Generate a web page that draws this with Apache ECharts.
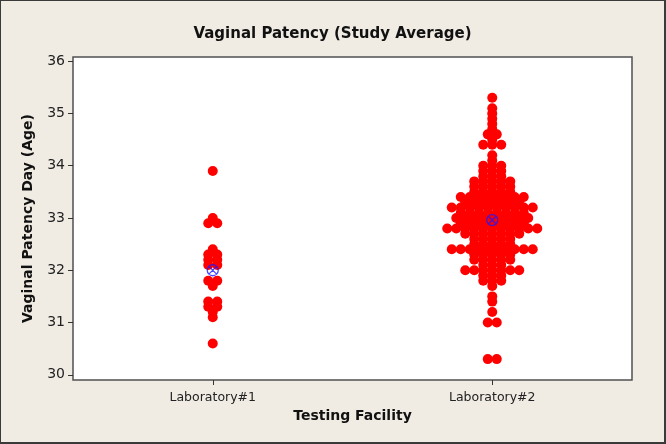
<!DOCTYPE html>
<html>
<head>
<meta charset="utf-8">
<script src="https://cdn.jsdelivr.net/npm/echarts@6/dist/echarts.min.js"></script>
<style>
html,body{margin:0;padding:0;background:#f0ece4;}
#c{width:666px;height:444px;box-sizing:border-box;border:2px solid #3a3a3a;border-top-width:1px;border-left-width:1px;}
</style>
</head>
<body>
<div id="c"></div>
<script>
const categories = ['Laboratory#1', 'Laboratory#2'];
const yTicks = [30, 31, 32, 33, 34, 35, 36];

// Laboratory#1: distinct values and how many studies share each value
const lab1Levels = [33.9, 33.0, 32.9, 32.4, 32.3, 32.2, 32.1, 31.8, 31.7, 31.4, 31.3, 31.2, 31.1, 30.6];
const lab1Counts = [1,    1,    2,    1,    2,    2,    2,    2,    1,    2,    2,    1,    1,    1];

// Laboratory#2
const lab2Levels = [35.3, 35.1, 35.0, 34.9, 34.8, 34.7, 34.6, 34.5, 34.4, 34.2, 34.1, 34.0, 33.9, 33.8, 33.7, 33.6, 33.5, 33.4, 33.3, 33.2, 33.1, 33.0, 32.9, 32.8, 32.7, 32.6, 32.5, 32.4, 32.3, 32.2, 32.1, 32.0, 31.9, 31.8, 31.7, 31.5, 31.4, 31.2, 31.0, 30.3];
const lab2Counts = [1,    1,    1,    1,    1,    1,    2,    1,    3,    1,    1,    3,    3,    3,    5,    5,    5,    8,    7,    10,   8,    9,    8,    11,   7,    5,    5,    10,   5,    5,    3,    7,    3,    3,    1,    1,    1,    1,    2,    2];

const groupMeans = [32.0, 32.96];

const STEP = 9; // horizontal spacing (px) of symbols sharing a value
function expand(catIdx, levels, counts) {
  const out = [];
  levels.forEach((v, i) => {
    const n = counts[i];
    for (let k = 0; k < n; k++) {
      out.push({ value: [catIdx, v], symbolOffset: [(k - (n - 1) / 2) * STEP, 0] });
    }
  });
  return out;
}
const dots = expand(0, lab1Levels, lab1Counts).concat(expand(1, lab2Levels, lab2Counts));
const means = groupMeans.map((m, i) => [i, m]);

const font = 'DejaVu Sans';
const chart = echarts.init(document.getElementById('c'));
chart.setOption({
  backgroundColor: 'transparent',
  animation: false,
  title: {
    text: 'Vaginal Patency (Study Average)',
    left: 'center', top: 21,
    textStyle: { fontFamily: font, fontSize: 15, fontWeight: 'bold', color: '#111' }
  },
  grid: {
    left: 72, right: 32, top: 56, bottom: 62,
    show: true, backgroundColor: '#ffffff', borderColor: '#505050', borderWidth: 1.5
  },
  xAxis: {
    type: 'category',
    data: categories,
    name: 'Testing Facility',
    nameLocation: 'middle', nameGap: 28,
    nameTextStyle: { fontFamily: font, fontSize: 14, fontWeight: 'bold', color: '#111' },
    axisLine: { show: false },
    axisTick: { show: true, alignWithLabel: true, length: 5, lineStyle: { color: '#333' } },
    axisLabel: { fontFamily: font, fontSize: 12.5, color: '#222', margin: 11 },
    splitLine: { show: false }
  },
  yAxis: {
    type: 'value',
    min: 29.9, max: 36.08,
    name: 'Vaginal Patency Day (Age)',
    nameLocation: 'middle', nameGap: 38, nameRotate: 90,
    nameTextStyle: { fontFamily: font, fontSize: 14, fontWeight: 'bold', color: '#111' },
    axisLine: { show: false },
    axisTick: { show: true, length: 5, lineStyle: { color: '#333' }, customValues: yTicks },
    axisLabel: { fontFamily: font, fontSize: 14, color: '#222', margin: 8, customValues: yTicks },
    splitLine: { show: false }
  },
  series: [
    {
      type: 'scatter',
      data: dots,
      symbol: 'circle',
      symbolSize: 10,
      itemStyle: { color: '#ff0000', opacity: 1 },
      z: 2
    },
    {
      type: 'scatter',
      data: means,
      symbol: 'path://M0,-10A10,10 0 1,1 0,10A10,10 0 1,1 0,-10ZM-7.07,-7.07L7.07,7.07M7.07,-7.07L-7.07,7.07',
      symbolSize: 11,
      itemStyle: { color: 'rgba(0,0,0,0)', borderColor: '#1a1aff', borderWidth: 1.3 },
      z: 3
    }
  ]
});
</script>
</body>
</html>
